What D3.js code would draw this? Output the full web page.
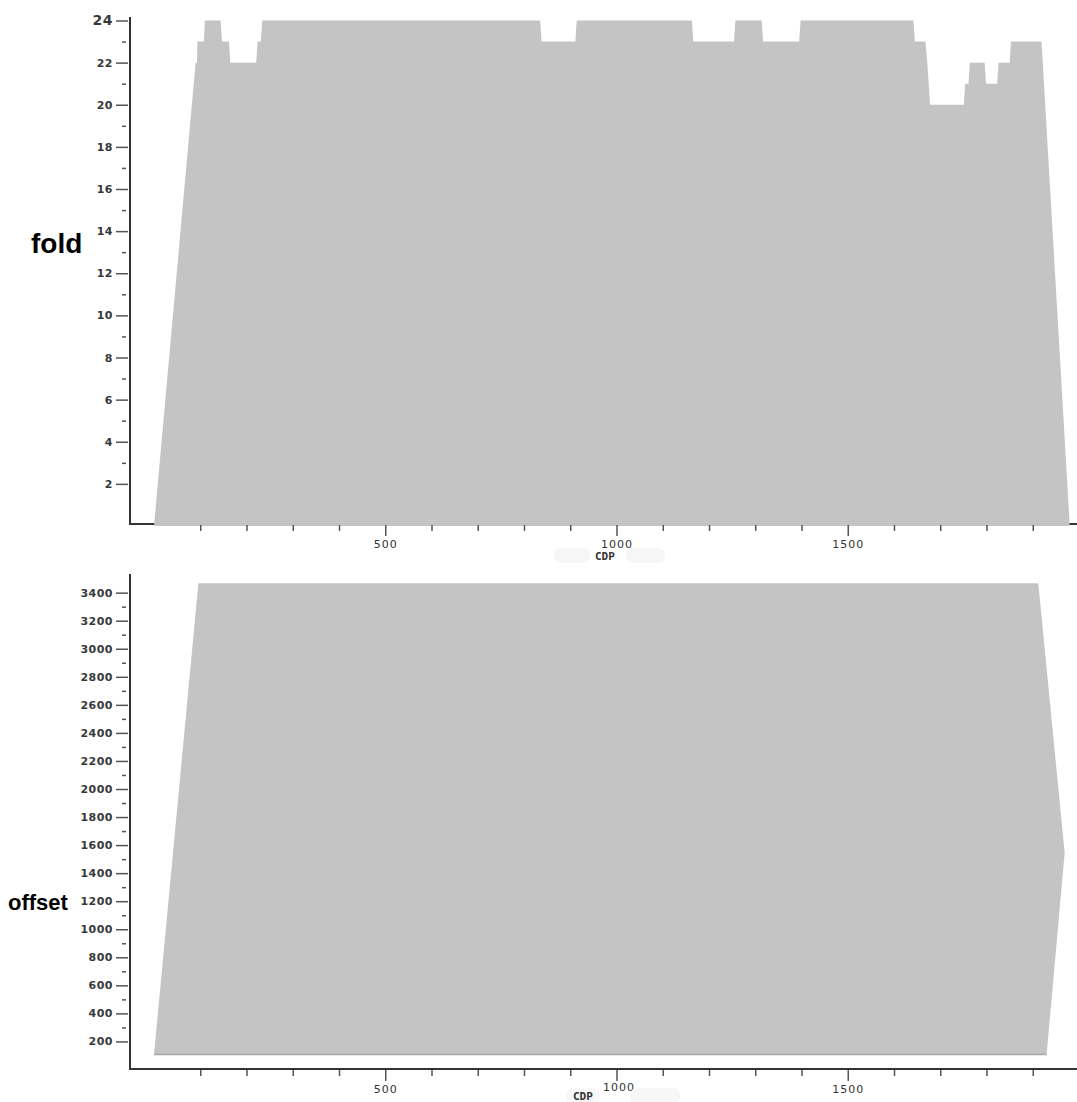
<!DOCTYPE html>
<html>
<head>
<meta charset="utf-8">
<script src="https://cdn.jsdelivr.net/npm/d3@7"></script>
<style>
  html, body { margin: 0; padding: 0; background: #fff; }
  svg { display: block; }
  .tick text { font-family: "DejaVu Sans", Verdana, sans-serif; font-weight: bold; fill: #383838; }
  .tick line { stroke: #555; stroke-width: 1.5; }
</style>
</head>
<body>
<script>
// Fold coverage along the line: CDP breakpoints and fold count at each
const foldCdp   = [0, 90, 93, 94, 108, 110, 144, 147, 162, 165, 221, 224, 231, 234,
                   835, 838, 911, 914, 1163, 1166, 1254, 1257, 1314, 1317, 1395, 1398,
                   1642, 1645, 1668, 1672, 1675, 1678, 1751, 1754, 1761, 1764, 1796, 1799,
                   1823, 1826, 1850, 1853, 1919, 1980];
const foldValue = [0, 22, 22, 23, 23, 24, 24, 23, 23, 22, 22, 23, 23, 24,
                   24, 23, 23, 24, 24, 23, 23, 24, 24, 23, 23, 24,
                   24, 23, 23, 22, 21, 20, 20, 21, 21, 22, 22, 21,
                   21, 22, 22, 23, 23, 0];

// Offset coverage outline (CDP, offset in m)
const offsetCdp   = [0, 96, 1912, 1969, 1930, 0];
const offsetValue = [107, 3467, 3467, 1544, 107, 107];

// Axis ticks
const cdpTicks        = d3.range(100, 2000, 100);
const cdpLabels       = [500, 1000, 1500];
const foldMajorTicks  = d3.range(2, 25, 2);
const foldMinorTicks  = d3.range(3, 24, 2);
const offsetMajorTicks = d3.range(200, 3401, 200);
const offsetMinorTicks = d3.range(300, 3301, 200);

const W = 1077, H = 1102;
const fillGrey = "#c4c4c4";

const svg = d3.select("body").append("svg").attr("width", W).attr("height", H);
svg.append("rect").attr("width", W).attr("height", H).attr("fill", "#fff");

const x = d3.scaleLinear().domain([0, 2000]).range([154, 1079]);
const yFold = d3.scaleLinear().domain([0, 24]).range([526, 20.5]);
const yOff = d3.scaleLinear().domain([0, 3500]).range([1069.5, 1069.5 - 3500 * 0.14025]);

function axisLine(x1, y1, x2, y2) {
  svg.append("line").attr("x1", x1).attr("y1", y1).attr("x2", x2).attr("y2", y2)
    .attr("stroke", "#333").attr("stroke-width", 2);
}

function yAxis(scale, major, minor, top, bottom, bigTop) {
  axisLine(130, top, 130, bottom);
  const gMaj = svg.append("g").attr("transform", "translate(128,0)")
    .call(d3.axisLeft(scale).tickValues(major).tickSize(12).tickPadding(3).tickFormat(d3.format("d")));
  gMaj.select(".domain").remove();
  gMaj.selectAll(".tick text").style("font-size", "11px").style("letter-spacing", "0.5px");
  if (bigTop !== undefined) {
    gMaj.selectAll(".tick text").filter(d => d === bigTop).style("font-size", "14px");
  }
  const gMin = svg.append("g").attr("transform", "translate(126,0)")
    .call(d3.axisLeft(scale).tickValues(minor).tickSize(4).tickFormat(""));
  gMin.select(".domain").remove();
}

function xAxis(yPos) {
  const gMin = svg.append("g").attr("transform", `translate(0,${yPos + 1})`)
    .call(d3.axisBottom(x).tickValues(cdpTicks.filter(d => !cdpLabels.includes(d))).tickSize(6).tickFormat(""));
  gMin.select(".domain").remove();
  const gMaj = svg.append("g").attr("transform", `translate(0,${yPos + 1})`)
    .call(d3.axisBottom(x).tickValues(cdpLabels).tickSize(11).tickPadding(4).tickFormat(d3.format("d")));
  gMaj.select(".domain").remove();
  gMaj.selectAll(".tick text").style("font-size", "11px").style("font-weight", "normal")
    .style("letter-spacing", "1px").style("fill", "#333");
  return gMaj;
}

// ---------- fold panel ----------
axisLine(130, 524, W, 524);
const foldData = foldCdp.map((c, i) => ({ cdp: c, v: foldValue[i] }));
svg.append("path")
  .datum(foldData)
  .attr("fill", fillGrey)
  .attr("d", d3.area().x(d => x(d.cdp)).y0(yFold(0)).y1(d => yFold(d.v)));
yAxis(yFold, foldMajorTicks, foldMinorTicks, 17, 525, 24);
xAxis(524);

// faint label backdrop
[[554, 590], [626, 665]].forEach(([a, b]) => {
  svg.append("rect").attr("x", a).attr("y", 548).attr("width", b - a).attr("height", 15)
    .attr("rx", 7).attr("fill", "#f6f6f6");
});
svg.append("text").attr("x", 595).attr("y", 560)
  .style("font-family", "'DejaVu Sans Mono', monospace").style("font-size", "11px")
  .style("font-weight", "bold").style("fill", "#333").text("CDP");

svg.append("text").attr("x", 31).attr("y", 253)
  .style("font-family", "'Liberation Sans', Arial, sans-serif").style("font-weight", "bold")
  .style("font-size", "28px").style("fill", "#000").text("fold");

// ---------- offset panel ----------
axisLine(130, 1069, W, 1069);
const offData = offsetCdp.map((c, i) => [x(c), yOff(offsetValue[i])]);
svg.append("path")
  .attr("fill", fillGrey)
  .attr("d", d3.line()(offData) + "Z");
svg.append("line")
  .attr("x1", x(offsetCdp[0])).attr("y1", yOff(offsetValue[0]))
  .attr("x2", x(offsetCdp[4])).attr("y2", yOff(offsetValue[4]))
  .attr("stroke", "#a8a8a8").attr("stroke-width", 1.5);
yAxis(yOff, offsetMajorTicks, offsetMinorTicks, 574, 1070);
const gb = xAxis(1069);
gb.selectAll(".tick text").filter(d => d === 1000).attr("dx", 2).attr("y", 13);

[[566, 600], [630, 680]].forEach(([a, b]) => {
  svg.append("rect").attr("x", a).attr("y", 1088).attr("width", b - a).attr("height", 16)
    .attr("rx", 7).attr("fill", "#f7f7f7");
});
svg.append("text").attr("x", 573).attr("y", 1100)
  .style("font-family", "'DejaVu Sans Mono', monospace").style("font-size", "11px")
  .style("font-weight", "bold").style("fill", "#333").text("CDP");

svg.append("text").attr("x", 8).attr("y", 910)
  .style("font-family", "'Liberation Sans', Arial, sans-serif").style("font-weight", "bold")
  .style("font-size", "22px").style("fill", "#000").text("offset");
</script>
</body>
</html>
